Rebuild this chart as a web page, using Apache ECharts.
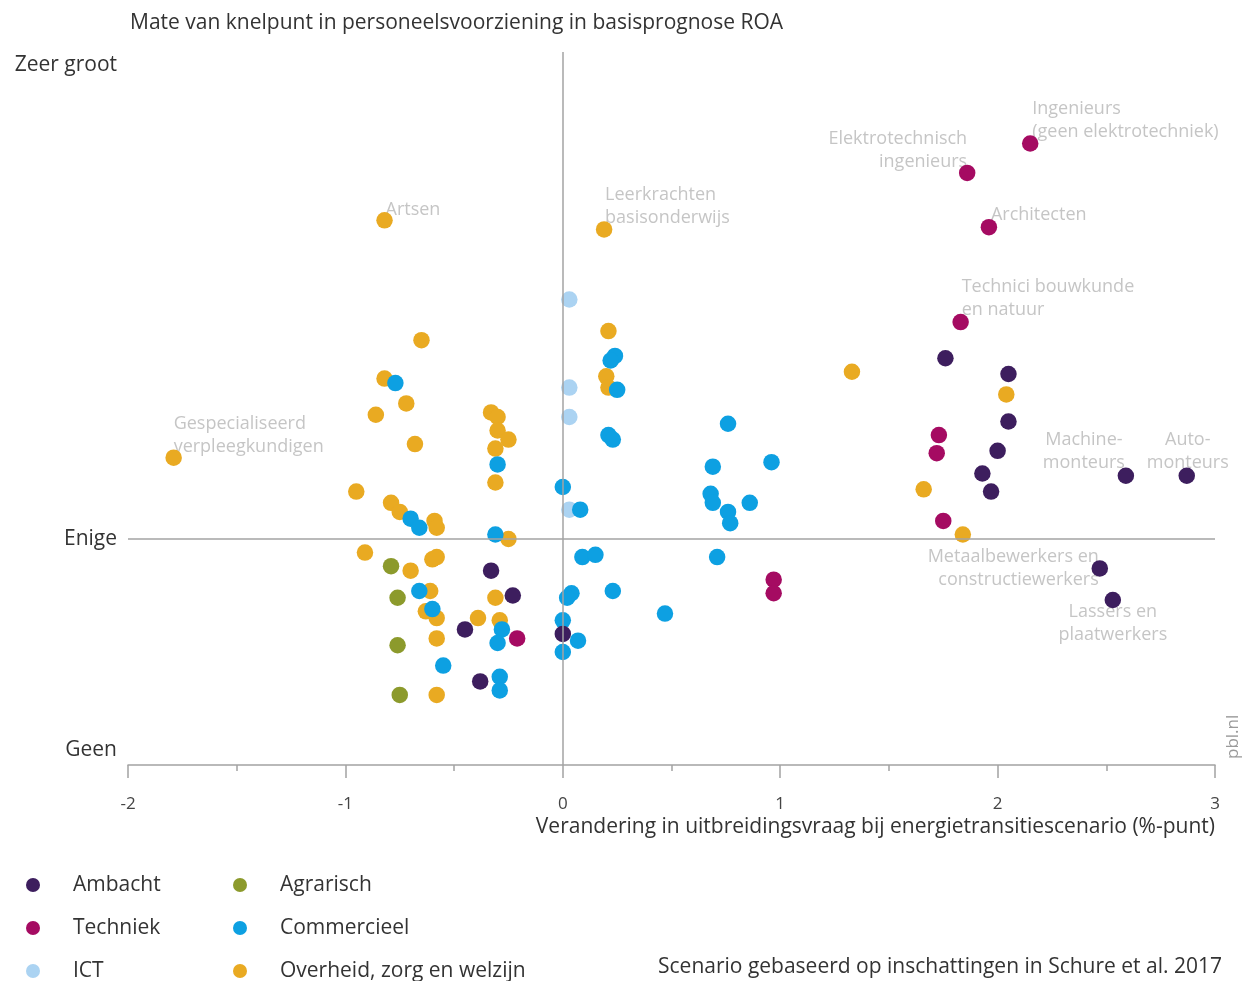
<!DOCTYPE html>
<html>
<head>
<meta charset="utf-8">
<script src="https://cdn.jsdelivr.net/npm/echarts@6/dist/echarts.min.js"></script>
<style>
html,body{margin:0;padding:0;background:#fff;}
#chart{width:1245px;height:981px;}
</style>
</head>
<body>
<div id="chart"></div>
<script>
// ---- data ----
const titleText = 'Mate van knelpunt in personeelsvoorziening in basisprognose ROA';
const xAxisTitle = 'Verandering in uitbreidingsvraag bij energietransitiescenario (%-punt)';
const sourceText = 'Scenario gebaseerd op inschattingen in Schure et al. 2017';
const xTicks = [-2, -1, 0, 1, 2, 3];
const yLevelValues = [-0.934, 0, 2.097];
const yLevelLabels = ['Geen', 'Enige', 'Zeer groot'];

const categories = ['Ambacht', 'Techniek', 'ICT', 'Agrarisch', 'Commercieel', 'Overheid, zorg en welzijn'];

const ambacht = [[-0.33,-0.14],[-0.23,-0.25],[-0.45,-0.40],[-0.38,-0.63],[0.00,-0.42],[1.76,0.80],[2.05,0.73],[2.05,0.52],[2.00,0.39],[1.93,0.29],[1.97,0.21],[2.59,0.28],[2.87,0.28],[2.47,-0.13],[2.53,-0.27]];
const techniek = [[-0.21,-0.44],[0.97,-0.18],[0.97,-0.24],[1.83,0.96],[1.86,1.62],[2.15,1.75],[1.96,1.38],[1.73,0.46],[1.72,0.38],[1.75,0.08]];
const ict = [[0.03,1.06],[0.03,0.67],[0.03,0.54],[0.03,0.13]];
const agrarisch = [[-0.79,-0.12],[-0.76,-0.26],[-0.76,-0.47],[-0.75,-0.69]];
const commercieel = [[-0.77,0.69],[-0.30,0.33],[-0.70,0.09],[-0.66,0.05],[-0.31,0.02],[-0.66,-0.23],[-0.60,-0.31],[-0.28,-0.40],[-0.30,-0.46],[-0.55,-0.56],[-0.29,-0.61],[-0.29,-0.67],[0.24,0.81],[0.22,0.79],[0.25,0.66],[0.21,0.46],[0.23,0.44],[0.76,0.51],[0.69,0.32],[0.96,0.34],[0.00,0.23],[0.08,0.13],[0.68,0.20],[0.69,0.16],[0.76,0.12],[0.86,0.16],[0.77,0.07],[0.09,-0.08],[0.15,-0.07],[0.71,-0.08],[0.04,-0.24],[0.02,-0.26],[0.23,-0.23],[0.47,-0.33],[0.00,-0.36],[0.07,-0.45],[0.00,-0.50]];
const overheid = [[-0.82,1.41],[0.19,1.37],[-1.79,0.36],[-0.65,0.88],[-0.82,0.71],[-0.72,0.60],[-0.86,0.55],[-0.68,0.42],[-0.95,0.21],[-0.79,0.16],[-0.75,0.12],[-0.59,0.08],[-0.58,0.05],[-0.33,0.56],[-0.30,0.54],[-0.30,0.48],[-0.25,0.44],[-0.31,0.40],[-0.31,0.25],[-0.25,0.00],[-0.91,-0.06],[-0.70,-0.14],[-0.60,-0.09],[-0.58,-0.08],[-0.61,-0.23],[-0.63,-0.32],[-0.58,-0.35],[-0.58,-0.44],[-0.39,-0.35],[-0.31,-0.26],[-0.29,-0.36],[-0.58,-0.69],[0.21,0.92],[0.20,0.72],[0.21,0.67],[1.33,0.74],[2.04,0.64],[1.66,0.22],[1.84,0.02]];

const annotationTexts = ['Artsen','Leerkrachten\nbasisonderwijs','Gespecialiseerd\nverpleegkundigen','Elektrotechnisch\ningenieurs','Ingenieurs\n(geen elektrotechniek)','Architecten','Technici bouwkunde\nen natuur','Machine-\nmonteurs','Auto-\nmonteurs','Metaalbewerkers en\nconstructiewerkers','Lassers en\nplaatwerkers'];
const annotationPoints = [[-0.82,1.41],[0.19,1.37],[-1.79,0.36],[1.86,1.62],[2.15,1.75],[1.96,1.38],[1.83,0.96],[2.59,0.28],[2.87,0.28],[2.47,-0.13],[2.53,-0.27]];

// ---- styling / layout ----
const FONT = '"Open Sans", "Noto Sans", sans-serif';
const colors = {
  'Ambacht': '#3d1e5e',
  'Techniek': '#a50b62',
  'ICT': '#abd3f2',
  'Agrarisch': '#8c9a2c',
  'Commercieel': '#0da0e2',
  'Overheid, zorg en welzijn': '#e9aa22'
};
const seriesData = {
  'Ambacht': ambacht, 'Techniek': techniek, 'ICT': ict,
  'Agrarisch': agrarisch, 'Commercieel': commercieel, 'Overheid, zorg en welzijn': overheid
};
const drawOrder = ['ICT', 'Overheid, zorg en welzijn', 'Commercieel', 'Agrarisch', 'Ambacht', 'Techniek'];
const annotationLayout = [
  {align:'left', dx:1, dy:-10},
  {align:'left', dx:1, dy:-23},
  {align:'left', dx:0, dy:-22},
  {align:'right', dx:0, dy:-23},
  {align:'left', dx:2, dy:-23},
  {align:'left', dx:2, dy:-12},
  {align:'left', dx:1, dy:-24},
  {align:'center', dx:-42, dy:-24},
  {align:'center', dx:1, dy:-24},
  {align:'right', dx:-1, dy:0},
  {align:'center', dx:0, dy:23}
];

const chart = echarts.init(document.getElementById('chart'), null, {renderer: 'canvas'});

const series = [];
series.push({
  name: 'annotations',
  type: 'scatter',
  z: 1,
  silent: true,
  symbolSize: 1,
  itemStyle: {color: 'rgba(0,0,0,0)'},
  data: annotationPoints.map((p, i) => ({
    value: p,
    label: {
      show: true,
      position: 'inside',
      formatter: annotationTexts[i],
      align: annotationLayout[i].align,
      verticalAlign: 'middle',
      offset: [annotationLayout[i].dx, annotationLayout[i].dy],
      color: '#b7b7b7',
      fontSize: 18,
      lineHeight: 23,
      fontFamily: FONT
    }
  })),
  markLine: {
    silent: true,
    symbol: 'none',
    label: {show: false},
    lineStyle: {color: '#a3a3a3', type: 'solid', width: 1.5},
    data: [{yAxis: 0}, {xAxis: 0}]
  }
});
drawOrder.forEach(name => {
  series.push({
    name: name,
    type: 'scatter',
    z: 2,
    symbolSize: 16.5,
    itemStyle: {color: colors[name], opacity: 1},
    emphasis: {disabled: true},
    data: seriesData[name]
  });
});

const legendCommon = {
  orient: 'vertical',
  top: 874,
  height: 130,
  padding: 0,
  itemWidth: 14,
  itemHeight: 14,
  itemGap: 21,
  icon: 'circle',
  selectedMode: false,
  textStyle: {fontSize: 21, color: '#333', fontFamily: FONT, lineHeight: 22, padding: [0, 0, 0, 28]}
};

chart.setOption({
  animation: false,
  backgroundColor: '#fff',
  title: {
    text: titleText,
    left: 125,
    top: 8,
    textStyle: {fontSize: 21, fontWeight: 'normal', color: '#333', fontFamily: FONT}
  },
  legend: [
    Object.assign({}, legendCommon, {left: 26, data: [categories[0], categories[1], categories[2]]}),
    Object.assign({}, legendCommon, {left: 233, data: [categories[3], categories[4], categories[5]]})
  ],
  grid: {left: 128, right: 30, top: 52, bottom: 216, containLabel: false},
  xAxis: {
    type: 'value',
    min: -2, max: 3, interval: 1,
    axisLine: {show: true, onZero: false, lineStyle: {color: '#a3a3a3', width: 1.5}},
    axisTick: {show: true, length: 13, lineStyle: {color: '#a3a3a3', width: 1.5}},
    minorTick: {show: true, splitNumber: 2, length: 6, lineStyle: {color: '#a3a3a3', width: 1.5}},
    splitLine: {show: false},
    axisLabel: {customValues: xTicks, margin: 31, fontSize: 17, color: '#444', fontFamily: FONT}
  },
  yAxis: {
    type: 'value',
    min: -1, max: 2.155,
    axisLine: {show: false, onZero: false},
    axisTick: {show: false},
    splitLine: {show: false},
    axisLabel: {
      customValues: yLevelValues,
      formatter: v => {
        const i = yLevelValues.findIndex(t => Math.abs(t - v) < 1e-6);
        return i >= 0 ? yLevelLabels[i] : '';
      },
      margin: 11, fontSize: 21, color: '#333', fontFamily: FONT
    }
  },
  graphic: [
    {type: 'text', right: 30, top: 817, style: {text: xAxisTitle, fontSize: 21, fill: '#333', fontFamily: FONT}},
    {type: 'text', right: 23, top: 957, style: {text: sourceText, fontSize: 21, fill: '#333', fontFamily: FONT}},
    {type: 'text', x: 1225, y: 759, rotation: Math.PI / 2, style: {text: 'pbl.nl', fontSize: 17, fill: '#9a9a9a', fontFamily: FONT}}
  ],
  series: series
});
</script>
</body>
</html>
